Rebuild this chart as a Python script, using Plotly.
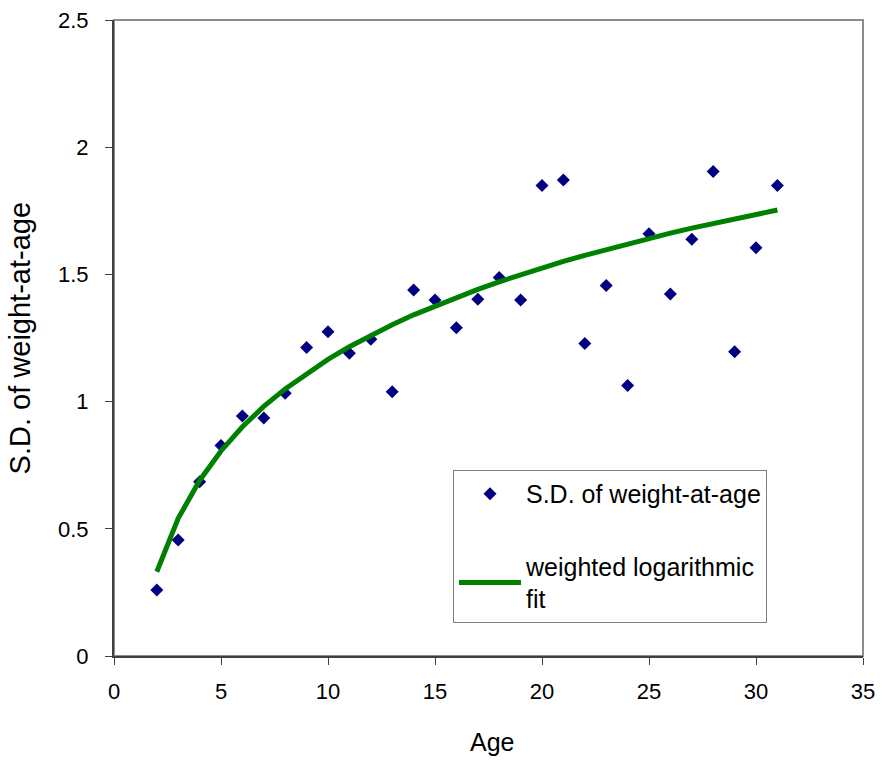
import plotly.graph_objects as go

ages = list(range(2, 32))
sd_weight = [0.259, 0.456, 0.685, 0.827, 0.943, 0.936, 1.033, 1.213, 1.275, 1.190,
             1.245, 1.039, 1.439, 1.399, 1.290, 1.402, 1.488, 1.399, 1.849, 1.871,
             1.228, 1.456, 1.063, 1.660, 1.423, 1.638, 1.904, 1.196, 1.605, 1.849]
fit_values = [0.331, 0.541, 0.690, 0.806, 0.901, 0.981, 1.050, 1.111, 1.166, 1.216,
              1.261, 1.302, 1.341, 1.376, 1.410, 1.441, 1.471, 1.499, 1.526, 1.551,
              1.575, 1.598, 1.620, 1.642, 1.662, 1.682, 1.700, 1.719, 1.736, 1.753]
x_ticks = [0, 5, 10, 15, 20, 25, 30, 35]
y_ticks = [0, 0.5, 1, 1.5, 2, 2.5]
y_tick_text = ["0", "0.5", "1", "1.5", "2", "2.5"]

FONT = "Liberation Sans, Arial, sans-serif"

fig = go.Figure()
fig.add_trace(go.Scatter(
    x=ages, y=sd_weight, mode="markers", name="S.D. of weight-at-age",
    marker=dict(symbol="diamond", size=10, color="#000080"),
    legendgroup="a"))
fig.add_trace(go.Scatter(
    x=ages, y=fit_values, mode="lines", name="weighted logarithmic<br>fit",
    line=dict(color="#008000", width=5),
    legendgroup="b"))

fig.update_layout(
    width=882, height=762,
    margin=dict(l=114, r=19, t=20, b=106),
    paper_bgcolor="white", plot_bgcolor="white",
    font=dict(family=FONT, size=22, color="black"),
    showlegend=True,
    legend=dict(x=0.4526, y=0.2925, xanchor="left", yanchor="top",
                bordercolor="#808080", borderwidth=1, bgcolor="white",
                font=dict(family=FONT, size=25, color="black"),
                tracegroupgap=37, itemwidth=62),
    shapes=[dict(type="rect", xref="paper", yref="paper", x0=0, y0=0, x1=1, y1=1,
                 line=dict(color="#8c8c8c", width=2), layer="below")],
    annotations=[
        dict(text="Age", xref="paper", yref="paper", x=0.505, y=-0.135,
             xanchor="center", yanchor="middle", showarrow=False,
             font=dict(family=FONT, size=25, color="black")),
        dict(text="S.D. of weight-at-age", xref="paper", yref="paper", x=-0.125, y=0.5,
             xanchor="center", yanchor="middle", textangle=-90, showarrow=False,
             font=dict(family=FONT, size=29, color="black")),
    ],
)
fig.update_xaxes(
    range=[0, 35], tickvals=x_ticks, automargin=False,
    ticks="outside", ticklen=7, tickcolor="#404040", tickwidth=1,
    showline=True, linecolor="#404040", linewidth=2, showgrid=False, zeroline=False,
    tickfont=dict(family=FONT, size=22), ticklabelstandoff=8)
fig.update_yaxes(
    range=[0, 2.5], tickvals=y_ticks, ticktext=y_tick_text, automargin=False,
    ticks="outside", ticklen=7, tickcolor="#404040", tickwidth=1,
    showline=True, linecolor="#404040", linewidth=2, showgrid=False, zeroline=False,
    tickfont=dict(family=FONT, size=22), ticklabelstandoff=12)

fig.write_html("out.html", config={"displayModeBar": False},
               post_script="document.body.style.margin='0';document.body.style.overflow='hidden';")
